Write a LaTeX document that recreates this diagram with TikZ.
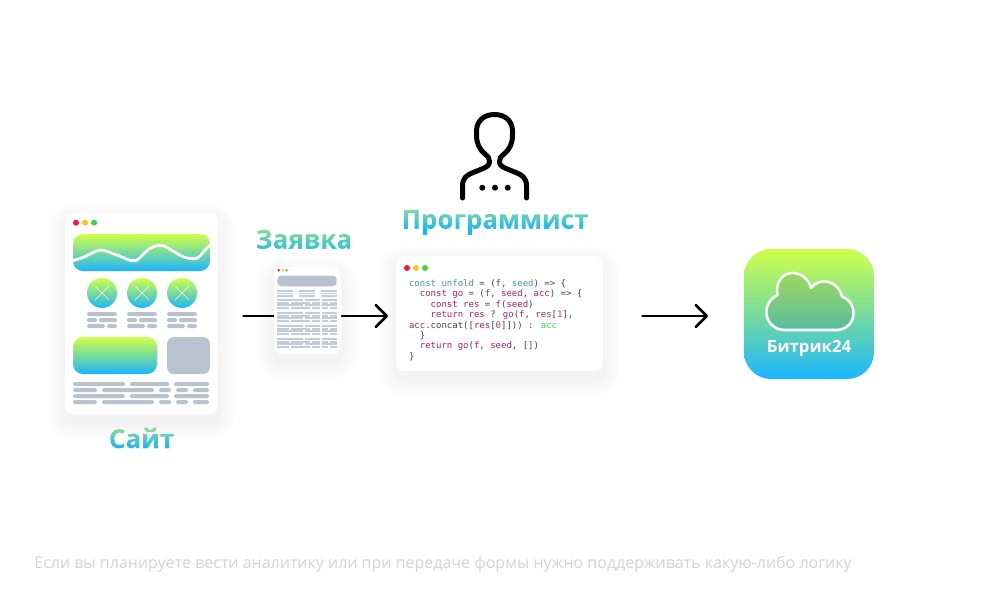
\documentclass[tikz,border=0pt]{standalone}
\usepackage{fontspec}
\setmainfont{Open Sans}
\newfontfamily\codefont{DejaVu Sans Mono}
\usetikzlibrary{arrows.meta,positioning}

\definecolor{gradtop}{HTML}{CFFF4A}
\definecolor{gradmid}{HTML}{78DB9C}
\definecolor{gradbot}{HTML}{1AB5FF}
\definecolor{labeltop}{HTML}{8CE08C}
\definecolor{labelteal}{HTML}{2FC3D6}
\definecolor{barcol}{HTML}{B9C3D0}
\definecolor{codeblue}{HTML}{4A8FC4}
\definecolor{codemag}{HTML}{A3246F}
\definecolor{codepink}{HTML}{E0306F}
\definecolor{codegreen}{HTML}{3CD04A}
\definecolor{codedark}{HTML}{44444E}
\definecolor{dotred}{HTML}{FA1240}
\definecolor{dotyel}{HTML}{FFC414}
\definecolor{dotgrn}{HTML}{3AD63A}

\tikzset{
  card/.style={draw=none, fill=white, rounded corners=8pt, inner sep=0pt, outer sep=0pt},
  gradfill/.style={top color=gradtop, bottom color=gradbot, middle color=gradmid},
  bar/.style={fill=barcol, rounded corners=1.5pt},
  thinbar/.style={fill=barcol!85},
  flowarrow/.style={draw=black, line width=2.6pt, line cap=round, -{Straight Barb[length=11pt, width=22pt, round]}},
  gradlabel/.style={font=\bfseries\fontsize{#1}{#1}\selectfont, inner sep=0pt},
}

\newsavebox{\gradbox}
\newlength{\gradwd}
% label text filled with the green to blue gradient
\newcommand{\gradtext}[2][gradbot]{%
  \sbox{\gradbox}{#2}\setlength{\gradwd}{\wd\gradbox}%
  \leavevmode\special{pdf:code q}%
  \rlap{\special{pdf:code 7 Tr}#2\special{pdf:code 0 Tr}}%
  \rlap{\tikz[baseline=0pt]{\fill[#1] (0pt,-.3em) rectangle (\gradwd,.01em);
    \shade[top color=labeltop, bottom color=#1] (0pt,0pt) rectangle (\gradwd,.8em);}}%
  \special{pdf:code Q}\hspace*{\gradwd}}

\newcommand{\softshadow}[5]{%
  \foreach \s in {1.5,3,...,18} {
    \fill[black, opacity=.0055, rounded corners=#5+\s pt]
      (#1-\s,#2+8-\s) rectangle (#3+\s,#4+8+\s);
  }}

\begin{document}
\begin{tikzpicture}[x=1pt, y=-1pt]
  \path[use as bounding box, fill=white] (0,0) rectangle (1000,600);

  % site mock-up
  \softshadow{65}{213}{218}{414}{8}
  \node (sitecard) [card, minimum width=153pt, minimum height=201pt] at (141.5,313.5) {};
  \fill[dotred] (76,222.7) circle (3);
  \fill[dotyel] (85,222.7) circle (3);
  \fill[dotgrn] (94,222.7) circle (3);
  \shade[gradfill, rounded corners=10pt] (73,234) rectangle (210,271);
  \begin{scope}
    \clip[rounded corners=10pt] (73,234) rectangle (210,271);
    \draw[white, line width=2.8pt] plot[smooth] coordinates {(71,261) (83,257.5) (100,250) (116.7,255) (135,260.7) (150,248.3) (163,245.7) (183,256.7) (196.7,258.3) (205,250) (212,243)};
  \end{scope}
  \foreach \dx in {0,40,80} {
    \shade[gradfill] (102+\dx,293) circle (15);
    \draw[white, line width=.6pt] (95+\dx,286) -- (109+\dx,300);
    \draw[white, line width=.6pt] (95+\dx,300) -- (109+\dx,286);
    \fill[bar] (87+\dx,312) rectangle (117+\dx,316);
    \fill[bar] (87+\dx,318) rectangle (97+\dx,322);
    \fill[bar] (99+\dx,318) rectangle (117+\dx,322);
    \fill[bar] (87+\dx,324) rectangle (105+\dx,328);
    \fill[bar] (107+\dx,324) rectangle (117+\dx,328);
  }
  \shade[gradfill, rounded corners=10pt] (73,337) rectangle (157,374);
  \fill[barcol, rounded corners=7pt] (167,337) rectangle (210,374);
  \foreach \y in {382,394} {
    \fill[bar] (73,\y) rectangle (125,\y+4);
    \fill[bar] (130,\y) rectangle (169,\y+4);
    \fill[bar] (174,\y) rectangle (209,\y+4);
  }
  \foreach \y in {388,400} {
    \fill[bar] (73,\y) rectangle (97,\y+4);
    \fill[bar] (102,\y) rectangle (154,\y+4);
    \fill[bar] (159,\y) rectangle (171,\y+4);
    \fill[bar] (176,\y) rectangle (188,\y+4);
    \fill[bar] (193,\y) rectangle (209,\y+4);
  }
  \node (sitelabel) [gradlabel=26] at (141.5,441.5) {\gradtext{Сайт}};

  % connectors go under the form card
  \coordinate (formin) at (243.5,316);
  \coordinate (codein) at (388,316);
  \coordinate (codeout) at (642.5,316);
  \coordinate (bitrixin) at (708,316);
  \draw[flowarrow] (formin) -- (codein);
  \draw[flowarrow] (codeout) -- (bitrixin);

  % form mock-up
  \softshadow{274}{267}{341}{354}{8}
  \node (formcard) [card, minimum width=67pt, minimum height=87pt] at (307.5,310.5) {};
  \fill[dotred] (278.7,270.3) circle (1.3);
  \fill[dotyel] (282.7,270.3) circle (1.3);
  \fill[dotgrn] (286.7,270.3) circle (1.3);
  \fill[barcol, rounded corners=4pt] (277.3,275.7) rectangle (336.7,286.3);
  \foreach \y in {290,292.6,295.2} {
    \fill[thinbar] (277.3,\y) rectangle (293.3,\y+1.8);
    \fill[thinbar] (299,\y) rectangle (315,\y+1.8);
    \fill[thinbar] (321,\y) rectangle (336.7,\y+1.8);
  }
  \foreach \g in {299.3,312.3,325.3,338.3} {
    \foreach \r in {0,5} {
      \fill[thinbar] (277.3,\g+\r) rectangle (303,\g+\r+1.8);
      \fill[thinbar] (305,\g+\r) rectangle (319.5,\g+\r+1.8);
      \fill[thinbar] (321.7,\g+\r) rectangle (336.7,\g+\r+1.8);
      \fill[thinbar] (277.3,\g+\r+2.5) rectangle (289,\g+\r+4.3);
      \fill[thinbar] (291,\g+\r+2.5) rectangle (310,\g+\r+4.3);
      \fill[thinbar] (312,\g+\r+2.5) rectangle (319.5,\g+\r+4.3);
      \fill[thinbar] (321.7,\g+\r+2.5) rectangle (328,\g+\r+4.3);
      \fill[thinbar] (330,\g+\r+2.5) rectangle (336.7,\g+\r+4.3);
    }
  }
  \node (formlabel) [gradlabel=26] at (304,242) {\gradtext[labelteal]{Заявка}};

  % programmer figure
  \draw[black, line width=5pt, line cap=round, line join=round]
    (462.5,198) -- (462.5,186) .. controls (462.5,178) and (467,175) .. (472,173)
    -- (483,168.5) .. controls (487.5,166.5) and (489.5,165) .. (489.5,161.5)
    .. controls (489.5,158) and (488,156.5) .. (485,154)
    .. controls (479,149) and (476.5,143) .. (476.5,135)
    -- (476.5,131) .. controls (476.5,121) and (484,114.5) .. (494.5,114.5)
    .. controls (505,114.5) and (512.5,121) .. (512.5,131)
    -- (512.5,135) .. controls (512.5,143) and (510,149) .. (504,154)
    .. controls (501,156.5) and (499.5,158) .. (499.5,161.5)
    .. controls (499.5,165) and (501.5,166.5) .. (506,168.5)
    -- (517,173) .. controls (522,175) and (526.5,178) .. (526.5,186) -- (526.5,198);
  \foreach \x in {482.3,495,507.7} {
    \fill[black] (\x,187.7) circle (3);
  }
  \node (coderlabel) [gradlabel=26] at (495,222) {\gradtext{Программист}};

  % code window
  \softshadow{396}{256}{603}{371}{8}
  \node (codecard) [card, minimum width=207pt, minimum height=115pt] at (499.5,313.5) {};
  \fill[dotred] (407,268) circle (3);
  \fill[dotyel] (416,268) circle (3);
  \fill[dotgrn] (425,268) circle (3);
  \node (codetext) [anchor=north west, inner sep=0pt, align=left,
    font=\codefont\fontsize{9}{10.4}\selectfont, text=codedark] at (408.8,279.5) {%
    \textcolor{codeblue}{const unfold} = (f, \textcolor{codeblue}{seed}) => \{\\
    \phantom{xx}\textcolor{codemag}{const go} = (\textcolor{codemag}{f}, \textcolor{codemag}{seed}, \textcolor{codemag}{acc}) => \{\\
    \phantom{xxxx}\textcolor{codemag}{const res} = \textcolor{codemag}{f}(\textcolor{codemag}{seed})\\
    \phantom{xxxx}\textcolor{codemag}{return res} ? \textcolor{codemag}{go}(\textcolor{codemag}{f}, \textcolor{codemag}{res}[\textcolor{codepink}{1}],\\
    \textcolor{codemag}{acc}.concat([\textcolor{codemag}{res}[\textcolor{codepink}{0}]])) : \textcolor{codegreen}{acc}\\
    \phantom{xx}\}\\
    \phantom{xx}\textcolor{codemag}{return go}(\textcolor{codemag}{f}, \textcolor{codemag}{seed}, [])\\
    \}};

  % bitrix tile
  \node (bitrix) [shade, gradfill, rounded corners=27pt, inner sep=0pt,
    minimum width=130pt, minimum height=130pt] at (809,314) {};
  \draw[white, line width=2.6pt, fill=black, fill opacity=.1, line join=round]
    (785,330) .. controls (774,330) and (766.5,322) .. (766.5,312)
    .. controls (766.5,304) and (771,298) .. (777.5,295)
    .. controls (775,283) and (782,273) .. (792.5,273)
    .. controls (802,273) and (809,280) .. (811,288)
    .. controls (815,283) and (819,281.5) .. (824,281.5)
    .. controls (833,281.5) and (840,288) .. (842,296.5)
    .. controls (849,299) and (853.5,305) .. (853.5,313)
    .. controls (853.5,323) and (846,330) .. (836,330) -- cycle;
  \node (bitrixlabel) [font=\bfseries\fontsize{16.8}{16.8}\selectfont, text=white, inner sep=0pt] at (809,348) {Битрик24};

  \node (caption) [font=\fontsize{16}{16}\selectfont, text=black!17, inner sep=0pt] at (443,564)
    {Если вы планируете вести аналитику или при передаче формы нужно поддерживать какую-либо логику};
\end{tikzpicture}
\end{document}
